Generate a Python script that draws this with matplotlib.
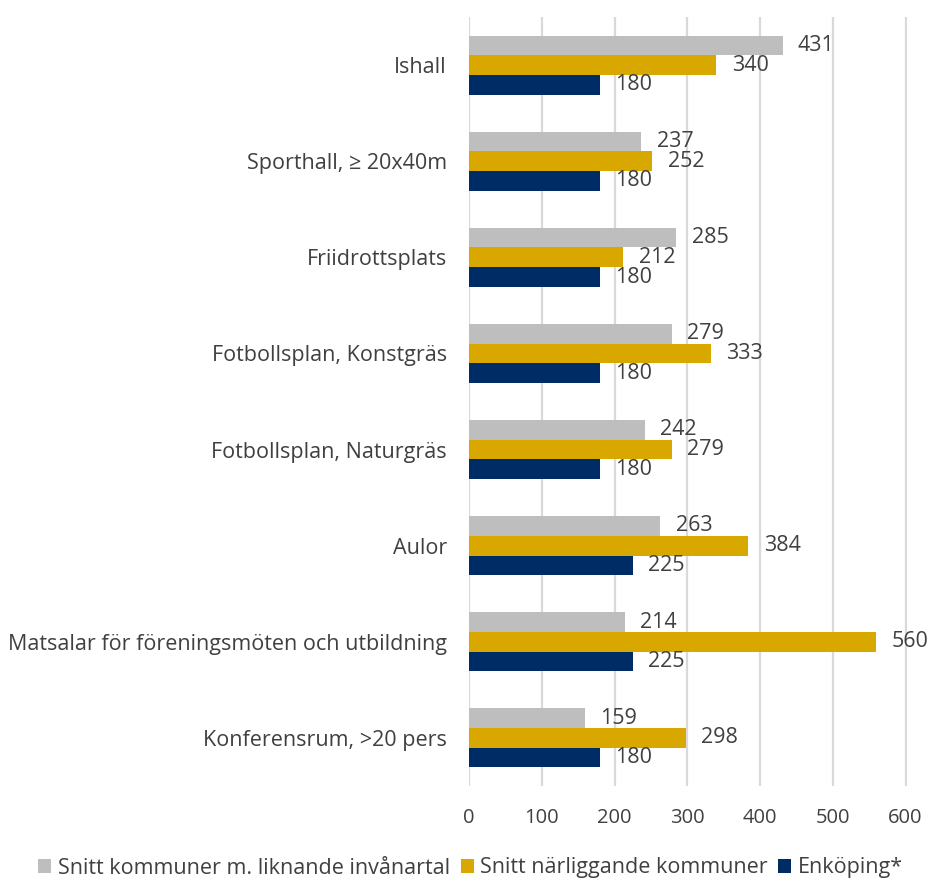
import numpy as np
import matplotlib
matplotlib.use('Agg')
import matplotlib.pyplot as plt
from matplotlib.patches import Patch

plt.rcParams['font.family'] = ['Open Sans', 'DejaVu Sans']

categories = ['Ishall', 'Sporthall, ≥ 20x40m', 'Friidrottsplats',
              'Fotbollsplan, Konstgräs', 'Fotbollsplan, Naturgräs', 'Aulor',
              'Matsalar för föreningsmöten och utbildning', 'Konferensrum, >20 pers']
series_names = ['Snitt kommuner m. liknande invånartal',
                'Snitt närliggande kommuner', 'Enköping*']
snitt_liknande = [431, 237, 285, 279, 242, 263, 214, 159]
snitt_narliggande = [340, 252, 212, 333, 279, 384, 560, 298]
enkoping = [180, 180, 180, 180, 180, 225, 225, 180]
x_ticks = [0, 100, 200, 300, 400, 500, 600]

colors = ['#BDBEBD', '#D9A800', '#002C66']
text_col = '#404040'

fig = plt.figure(figsize=(9.32, 8.82), dpi=100)
ax = fig.add_axes([469 / 932, 1 - 786 / 882, (907 - 469) / 932, (786 - 17) / 882])

y = np.arange(len(categories))
h = 0.205
for k, (vals, col) in enumerate(zip([snitt_liknande, snitt_narliggande, enkoping], colors)):
    pos = y + (k - 1) * h
    ax.barh(pos, vals, height=h, color=col, zorder=3)
    for p, v in zip(pos, vals):
        ax.annotate(str(v), (v, p), xytext=(11, 0), textcoords='offset points',
                    ha='left', va='center', fontsize=15.5, color=text_col)

ax.set_ylim(len(categories) - 0.5, -0.5)
ax.set_xlim(0, 602)
ax.set_xticks(x_ticks)
ax.set_xticklabels([str(t) for t in x_ticks])
ax.set_yticks(y)
ax.set_yticklabels(categories)
ax.tick_params(axis='y', length=0, pad=16, labelsize=15.5, labelcolor=text_col)
ax.tick_params(axis='x', length=0, pad=16, labelsize=14.5, labelcolor=text_col)
ax.grid(axis='x', color='#D9D9D9', linewidth=1.6, zorder=0)
for s in ax.spines.values():
    s.set_visible(False)

handles = [Patch(facecolor=c, edgecolor='none') for c in colors]
fig.legend(handles, series_names, loc='center', bbox_to_anchor=(0.505, 1 - 868 / 882),
           ncol=3, frameon=False, handlelength=0.6, handleheight=0.6,
           handletextpad=0.3, columnspacing=0.5, labelcolor=text_col,
           prop={'family': ['Open Sans', 'DejaVu Sans'], 'size': 15.5})

fig.savefig('out.png', dpi=100)
